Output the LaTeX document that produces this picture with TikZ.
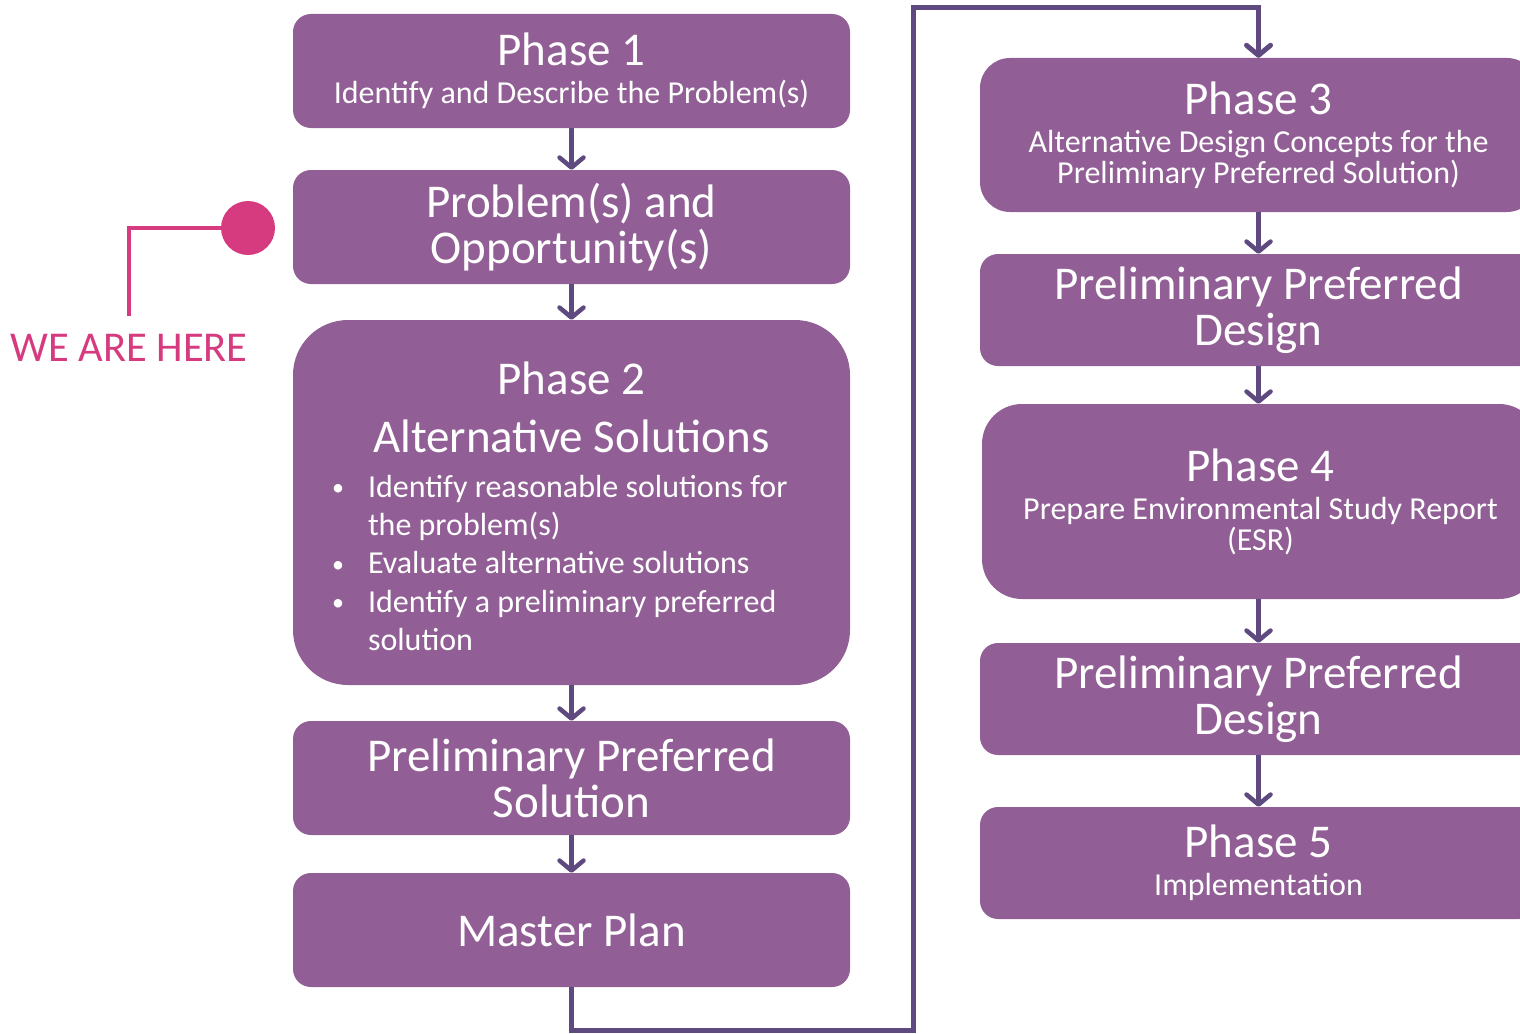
\documentclass[tikz,border=0pt]{standalone}
\usepackage{fontspec}
\setmainfont{Carlito}
\usetikzlibrary{arrows.meta}
\definecolor{boxc}{HTML}{915F95}
\definecolor{arrc}{HTML}{5E4A7E}
\definecolor{pinkc}{HTML}{D63B7F}
\newcommand{\bigtxt}{\fontsize{47}{46}\selectfont}
\newcommand{\subtxt}{\fontsize{32}{31}\selectfont}
\tikzset{
  box/.style={fill=boxc, text=white, rounded corners=18pt, minimum width=557pt, align=center, inner sep=0pt, font=\bigtxt},
  flow/.style={draw=arrc, line width=4.5pt, -{Straight Barb[length=10pt,width=24pt,round]}},
  loopline/.style={draw=arrc, line width=5pt, -{Straight Barb[length=10pt,width=24pt,round]}},
  marker/.style={draw=pinkc, line width=4pt},
}
\newcommand{\phasetext}[2]{\begin{minipage}{557pt}\centering\bigtxt #1\par\vspace{7pt}\subtxt #2\par\end{minipage}}
\newcommand{\bul}{\hspace*{14pt}\makebox[36pt][l]{\raisebox{1.5pt}{\fontsize{24}{24}\selectfont •}}}
\begin{document}
\begin{tikzpicture}[x=1pt,y=-1pt]
\useasboundingbox (0,0) rectangle (1520,1033);
\clip (0,0) rectangle (1520,1033);
% left column
\node[box, minimum height=114pt] (p1) at (571.5,71) {\phasetext{Phase 1}{Identify and Describe the Problem(s)}};
\node[box, minimum height=114pt] (prob) at (571.5,227) {Problem(s) and\\Opportunity(s)};
\node[box, rounded corners=55pt, minimum height=365pt] (p2) at (571.5,502.5) {%
  \begin{minipage}{507pt}\centering
  \vspace*{7pt}
  \bigtxt Phase 2\\[12pt] Alternative Solutions\par
  \vspace{7pt}
  \raggedright\fontsize{32}{38.2}\selectfont
  \bul Identify reasonable solutions for\\
  \hspace*{50pt}the problem(s)\\
  \bul Evaluate alternative solutions\\
  \bul Identify a preliminary preferred\\
  \hspace*{50pt}solution
  \end{minipage}};
\node[box, minimum height=114pt] (pps) at (571.5,778) {Preliminary Preferred\\Solution};
\node[box, minimum height=114pt] (mp) at (571.5,930) {Master Plan};
% right column
\node[box, rounded corners=30pt, minimum height=154pt] (p3) at (1258.5,135) {\phasetext{Phase 3}{Alternative Design Concepts for the\\Preliminary Preferred Solution)}};
\node[box, minimum height=112pt] (ppd1) at (1258.5,310) {Preliminary Preferred\\Design};
\node[box, rounded corners=40pt, minimum height=195pt] (p4) at (1260.5,501.5) {\phasetext{Phase 4}{Prepare Environmental Study Report\\(ESR)}};
\node[box, minimum height=112pt] (ppd2) at (1258.5,699) {Preliminary Preferred\\Design};
\node[box, minimum height=112pt] (p5) at (1258.5,863) {\phasetext{Phase 5}{Implementation}};
% arrows
\draw[flow] (p1) -- (prob);
\draw[flow] (prob) -- (p2);
\draw[flow] (p2) -- (pps);
\draw[flow] (pps) -- (mp);
\draw[flow] (p3) -- (ppd1);
\draw[flow] (ppd1.south) -- (ppd1.south |- p4.north);
\draw[flow] (p4.south -| ppd2.north) -- (ppd2.north);
\draw[flow] (ppd2) -- (p5);
% loop connector
\coordinate (lb) at (571.5,1030);
\coordinate (lr) at (913,1030);
\coordinate (lt) at (913,8);
\draw[loopline] (mp.south) -- (lb) -- (lr) -- (lt) -| (p3.north);
% marker
\node[circle, fill=pinkc, minimum size=54pt, inner sep=0pt] (dot) at (248,228) {};
\node[text=pinkc, font=\fontsize{42.5}{42}\selectfont, inner sep=0pt] (weh) at (129,348) {WE ARE HERE};
\coordinate (mk) at (129,316);
\draw[marker] (dot.west) -| (mk);
\end{tikzpicture}
\end{document}
